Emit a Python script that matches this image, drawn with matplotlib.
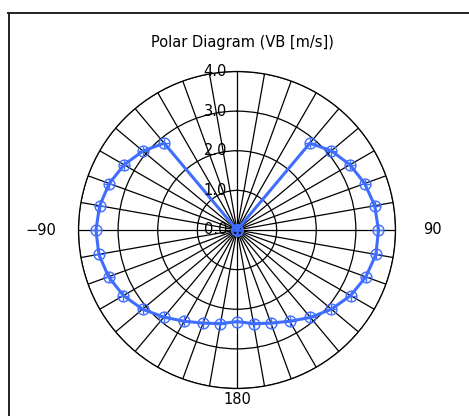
import numpy as np
import matplotlib
matplotlib.use("Agg")
import matplotlib.pyplot as plt
from matplotlib.lines import Line2D

plt.rcParams['font.family'] = ['DejaVu Sans', 'Noto Sans CJK JP']

# Data
angles_deg = [0, 10, 20, 30, 40, 50, 60, 70, 80, 90, 100, 110, 120, 130, 140, 150, 160, 170,
              180, 190, 200, 210, 220, 230, 240, 250, 260, 270, 280, 290, 300, 310, 320, 330, 340, 350]
vb = [0.0, 0.0, 0.0, 0.0, 2.86, 3.11, 3.29, 3.43, 3.53, 3.57, 3.56, 3.46, 3.31, 3.11, 2.88,
      2.66, 2.50, 2.40, 2.31, 2.40, 2.50, 2.66, 2.87, 3.11, 3.31, 3.45, 3.54, 3.56, 3.52, 3.43,
      3.29, 3.10, 2.86, 0.0, 0.0, 0.0]
r_ticks = [0, 1, 2, 3, 4]
r_tick_labels = ["0.0", "1.0", "2.0", "3.0", "4.0"]
theta_labels = {270: "\u221290", 90: "90", 180: "180"}
title = "Polar Diagram (VB [m/s])"

W, H = 469, 416
fig = plt.figure(figsize=(W / 100, H / 100), dpi=100)

# outer frame (clipped box)
fig.add_artist(Line2D([8 / W, 1.0], [1 - 12.5 / H, 1 - 12.5 / H], transform=fig.transFigure,
                      color="#222222", lw=1.4))
fig.add_artist(Line2D([8.5 / W, 8.5 / W], [0, 1 - 12.5 / H], transform=fig.transFigure,
                      color="#222222", lw=1.4))

cx, cy, R = 237, 230, 158.5
ax = fig.add_axes([(cx - R) / W, (H - cy - R) / H, 2 * R / W, 2 * R / H], projection="polar")
ax.set_theta_zero_location("N")
ax.set_theta_direction(-1)
ax.set_ylim(0, 4)
ax.set_rticks(r_ticks)
ax.set_yticklabels([])
ax.set_thetagrids(np.arange(0, 360, 10), labels=[""] * 36)
ax.grid(True, color="black", lw=0.9)
ax.spines["polar"].set_color("black")
ax.spines["polar"].set_linewidth(0.9)
ax.tick_params(length=0)

th = np.deg2rad(angles_deg)
col = "#3F6EFF"
ax.plot(th, vb, color=col, lw=2.2, zorder=5, clip_on=False)
ax.plot(th, vb, ls="none", marker="o", ms=7.8, mfc="none", mec=col, mew=1.0, zorder=6, clip_on=False)
ax.plot(th, vb, ls="none", marker="+", ms=7.8, mec=col, mew=1.0, zorder=6, clip_on=False)

for r, lab in zip(r_ticks, r_tick_labels):
    ax.annotate(lab, xy=(0, r), xytext=(-10, 0), textcoords="offset pixels",
                ha="right", va="center", fontsize=10.5, color="black", zorder=7)

pos = {270: 4.95, 90: 4.92, 180: 4.29}
for a, lab in theta_labels.items():
    ax.text(np.deg2rad(a), pos[a], lab, ha="center", va="center", fontsize=10.5, clip_on=False)

fig.text(242 / W, 1 - 42 / H, title, ha="center", va="center", fontsize=10.5)

fig.savefig("out.png", dpi=100)
